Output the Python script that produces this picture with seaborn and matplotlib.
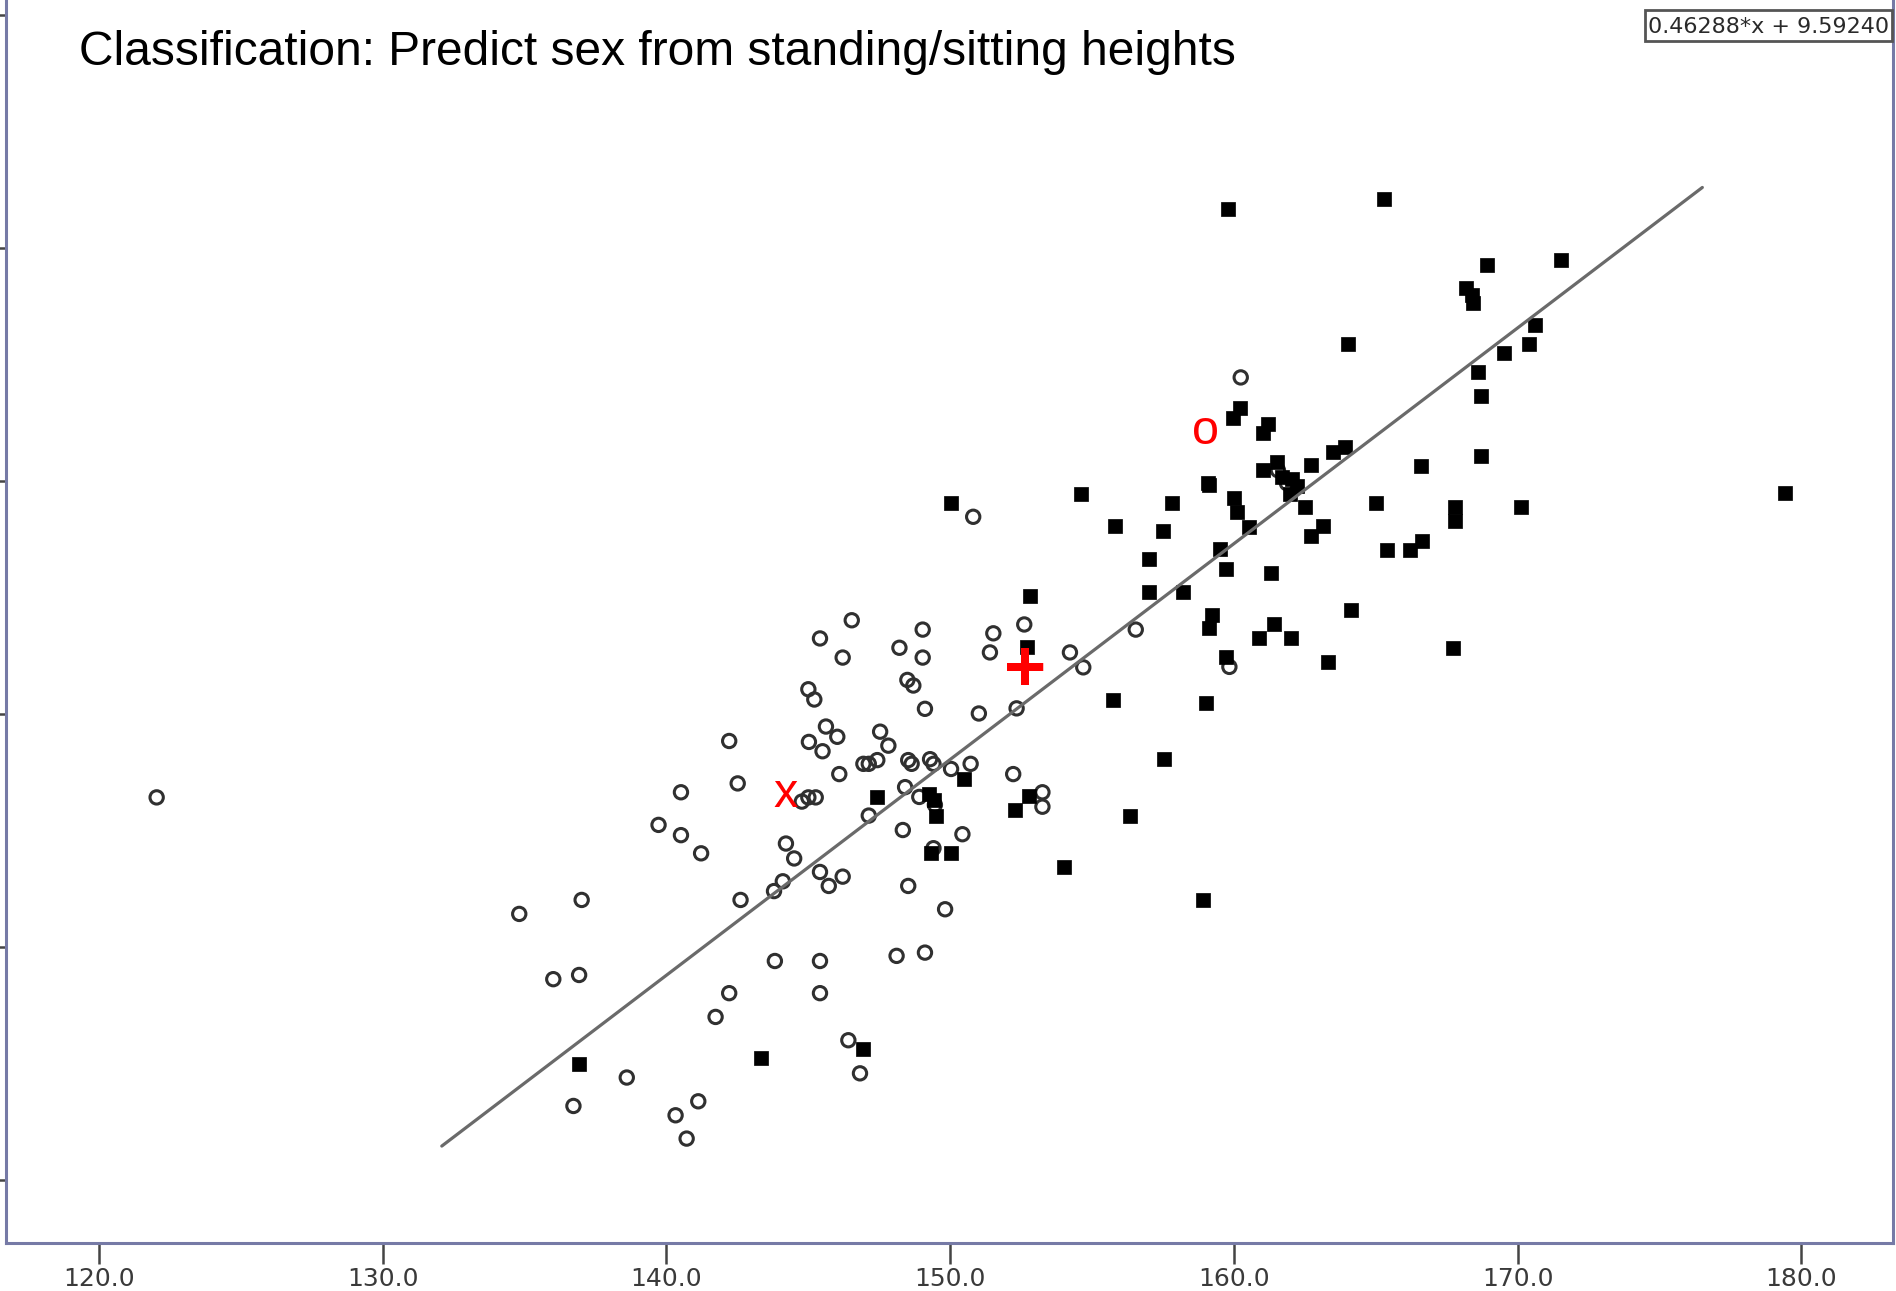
import matplotlib
matplotlib.use("Agg")
import matplotlib.pyplot as plt
import matplotlib.patches as mpatches
import seaborn as sns
import pandas as pd

# ---------------- data ----------------
female_standing = [122.03, 134.81, 137.01, 136.01, 136.92, 136.72, 138.60, 143.82, 145.41, 148.11,
                   149.11, 142.21, 141.73, 145.41, 146.41, 146.82, 141.12, 140.32, 140.71, 146.53,
                   145.41, 146.21, 149.03, 148.21, 149.03, 151.52, 152.61, 151.40, 154.22, 154.69,
                   145.00, 145.21, 148.49, 148.70, 149.11, 151.01, 152.34, 142.21, 145.62, 146.02,
                   145.02, 145.50, 147.53, 147.82, 142.51, 140.51, 146.09, 146.94, 147.13, 147.43,
                   148.52, 148.64, 149.29, 149.41, 150.03, 150.72, 152.22, 144.77, 145.00, 145.26,
                   148.41, 148.91, 147.13, 153.25, 153.25, 139.72, 140.51, 141.22, 144.21, 144.50,
                   148.33, 150.43, 142.61, 143.79, 144.10, 145.41, 146.21, 145.72, 148.52, 149.82,
                   149.41, 150.81, 156.54, 159.84, 160.24, 161.55, 161.87, 149.46]
female_sitting = [78.21, 75.71, 76.01, 74.31, 74.40, 71.59, 72.20, 74.70, 74.70, 74.81,
                  74.88, 74.01, 73.50, 74.01, 73.00, 72.29, 71.69, 71.39, 70.89, 82.01,
                  81.62, 81.21, 81.81, 81.42, 81.21, 81.73, 81.92, 81.32, 81.32, 81.00,
                  80.53, 80.31, 80.73, 80.61, 80.11, 80.01, 80.12, 79.42, 79.73, 79.51,
                  79.40, 79.20, 79.62, 79.32, 78.51, 78.32, 78.71, 78.93, 78.93, 79.01,
                  79.01, 78.93, 79.03, 78.93, 78.82, 78.93, 78.71, 78.12, 78.21, 78.21,
                  78.43, 78.22, 77.82, 78.32, 78.01, 77.62, 77.40, 77.01, 77.22, 76.90,
                  77.51, 77.42, 76.01, 76.20, 76.41, 76.61, 76.51, 76.31, 76.31, 75.81,
                  77.12, 84.23, 81.81, 81.01, 87.22, 85.23, 84.95, 78.05]

male_standing = [136.92, 143.32, 146.92, 152.81, 152.70, 155.73, 147.41, 150.50, 149.25, 149.43,
                 149.50, 152.28, 152.78, 149.32, 150.02, 154.01, 156.35, 150.02, 154.61, 159.12,
                 157.83, 155.81, 157.51, 157.02, 160.00, 160.12, 160.54, 162.51, 163.13, 162.71,
                 164.99, 165.41, 166.21, 166.62, 159.51, 159.71, 161.31, 157.02, 158.22, 159.22,
                 159.13, 161.42, 160.89, 162.00, 164.12, 163.33, 159.72, 159.01, 157.54, 158.92,
                 165.30, 168.93, 171.53, 168.18, 168.38, 168.42, 164.01, 170.61, 170.41, 169.52,
                 168.61, 168.71, 168.71, 166.59, 162.72, 163.50, 163.92, 159.80, 160.21, 159.98,
                 161.19, 161.02, 159.10, 161.03, 161.52, 161.70, 162.05, 162.22, 161.98, 167.79,
                 167.79, 170.11, 179.43, 167.72]
male_sitting = [72.49, 72.61, 72.81, 82.53, 81.44, 80.31, 78.21, 78.60, 78.28, 78.15,
                77.82, 77.95, 78.25, 77.01, 77.01, 76.71, 77.81, 84.53, 84.72, 84.91,
                84.53, 84.03, 83.92, 83.32, 84.63, 84.34, 84.02, 84.45, 84.03, 83.82,
                84.53, 83.52, 83.52, 83.72, 83.53, 83.12, 83.02, 82.62, 82.62, 82.12,
                81.84, 81.94, 81.62, 81.62, 82.23, 81.12, 81.23, 80.23, 79.03, 76.01,
                91.04, 89.63, 89.74, 89.13, 88.99, 88.81, 87.94, 88.34, 87.94, 87.74,
                87.34, 86.83, 85.53, 85.33, 85.34, 85.63, 85.73, 90.83, 86.56, 86.36,
                86.21, 86.02, 84.95, 85.23, 85.40, 85.08, 85.04, 84.89, 84.72, 84.44,
                84.14, 84.43, 84.73, 81.41]

slope = 0.46288
intercept = 9.59240
line_x = [132.08, 176.51]

x_ticks = [120, 130, 140, 150, 160, 170, 180]
x_tick_labels = ["120.0", "130.0", "140.0", "150.0", "160.0", "170.0", "180.0"]
y_ticks = [70, 75, 80, 85, 90, 95]

title_text = "Classification: Predict sex from standing/sitting heights"
equation_text = "0.46288*x + 9.59240"
# query points: (label, standing, sitting)
query_labels = ["x", "+", "o"]
query_x = [144.20, 152.65, 159.00]
query_y = [78.01, 81.07, 85.79]

# ---------------- figure ----------------
sns.set_theme(style="white")
plt.rcParams['font.family'] = ['Liberation Sans', 'DejaVu Sans']

W, H = 1896, 1291
fig = plt.figure(figsize=(W / 100, H / 100), dpi=100)
fig.patch.set_facecolor("white")

ax_l, ax_r, ax_b, ax_t = 6, 1893, 1243, -2
ax = fig.add_axes([ax_l / W, (H - ax_b) / H, (ax_r - ax_l) / W, (ax_b - ax_t) / H])
ax.set_facecolor("white")

fem = pd.DataFrame({"standing": female_standing, "sitting": female_sitting})
mal = pd.DataFrame({"standing": male_standing, "sitting": male_sitting})

sns.scatterplot(data=fem, x="standing", y="sitting", ax=ax, marker="o", s=92,
                facecolor="none", edgecolor="#303030", linewidth=2.2, zorder=2)
sns.scatterplot(data=mal, x="standing", y="sitting", ax=ax, marker="s", s=105,
                color="black", edgecolor="black", linewidth=0.5, zorder=3)

line_df = pd.DataFrame({"x": line_x, "y": [slope * v + intercept for v in line_x]})
sns.lineplot(data=line_df, x="x", y="y", ax=ax, color="#6a6a6a", linewidth=2.3, zorder=4)

ax.set_xlim(116.72, 183.23)
ax.set_ylim(68.65, 95.36)
ax.set_xlabel("")
ax.set_ylabel("")

ax.set_xticks(x_ticks)
ax.set_xticklabels(x_tick_labels, fontsize=18, color="#3a3a3a",
                   family=['Liberation Sans Narrow', 'DejaVu Sans'])
ax.set_yticks(y_ticks)
ax.set_yticklabels([])
ax.tick_params(axis="x", direction="out", length=15, width=1.8, color="#444444", pad=2, bottom=True)
ax.tick_params(axis="y", direction="out", length=8, width=1.8, color="#444444", left=True)

spine_col = "#767aa6"
for side in ["left", "bottom", "right"]:
    ax.spines[side].set_visible(True)
    ax.spines[side].set_color(spine_col)
    ax.spines[side].set_linewidth(2.2)
ax.spines["top"].set_visible(False)

# query labels (red text)
for lab, qx, qy in zip(query_labels, query_x, query_y):
    if lab == "+":
        ax.text(qx, qy, lab, color="#ff0000", fontsize=52, fontweight="bold",
                ha="center", va="center_baseline", zorder=6)
    else:
        ax.text(qx, qy, lab, color="#ff0000", fontsize=35, ha="center", va="baseline", zorder=6)

# title
fig.text(79 / W, 1 - 65 / H, title_text, fontsize=34.5, color="black", ha="left", va="baseline")

# equation box (top-right)
fig.text(1769 / W, 1 - 33 / H, equation_text, fontsize=16, color="#2a2a2a",
         ha="center", va="baseline", family=['DejaVu Sans'], zorder=10)
fig.patches.append(mpatches.Rectangle((1645 / W, 1 - 41 / H), 247 / W, 31 / H,
                                      transform=fig.transFigure, facecolor="none",
                                      edgecolor="#555555", linewidth=2.0, zorder=12))

fig.savefig("out.png", dpi=100, facecolor="white")
